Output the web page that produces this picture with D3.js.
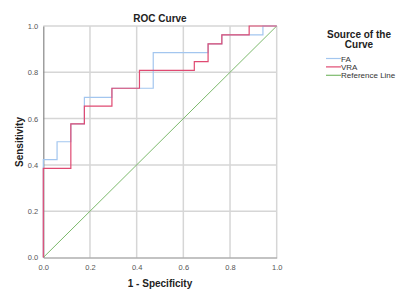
<!DOCTYPE html>
<html><head><meta charset="utf-8">
<script src="https://cdn.jsdelivr.net/npm/d3@7"></script>
<style>body{margin:0;background:#fff}svg{display:block;font-family:"Liberation Sans",Arial,sans-serif}</style>
</head><body><svg id="c" width="400" height="294"></svg>
<script>
// FA curve points (1 - specificity, sensitivity)
const faX = [0, 0, 0.059, 0.059, 0.118, 0.118, 0.176, 0.176, 0.294, 0.294, 0.471, 0.471, 0.706, 0.706, 0.765, 0.765, 0.941, 0.941, 1.0];
const faY = [0, 0.423, 0.423, 0.5, 0.5, 0.577, 0.577, 0.692, 0.692, 0.731, 0.731, 0.885, 0.885, 0.923, 0.923, 0.962, 0.962, 1.0, 1.0];
// VRA curve points
const vraX = [0, 0, 0.118, 0.118, 0.176, 0.176, 0.294, 0.294, 0.412, 0.412, 0.647, 0.647, 0.706, 0.706, 0.765, 0.765, 0.882, 0.882, 1.0];
const vraY = [0, 0.385, 0.385, 0.577, 0.577, 0.654, 0.654, 0.731, 0.731, 0.808, 0.808, 0.846, 0.846, 0.923, 0.923, 0.962, 0.962, 1.0, 1.0];
const refX = [0, 1];
const refY = [0, 1];
const ticks = [0, 0.2, 0.4, 0.6, 0.8, 1.0];
const legendNames = ["FA", "VRA", "Reference Line"];
const colors = ["#a3c6ef", "#e04a72", "#7cba6c"];

const svg = d3.select("#c");
const x = d3.scaleLinear().domain([0, 1]).range([43.3, 276.7]);
const y = d3.scaleLinear().domain([0, 1]).range([257.5, 26]);

// gridlines
const g = svg.append("g");
g.selectAll(".gx").data(ticks.slice(1)).join("line")
  .attr("x1", d => x(d)).attr("x2", d => x(d)).attr("y1", y(0)).attr("y2", y(1))
  .attr("stroke", "#d6d6d6").attr("stroke-width", 1.5);
g.selectAll(".gy").data(ticks.slice(1)).join("line")
  .attr("y1", d => y(d)).attr("y2", d => y(d)).attr("x1", x(0)).attr("x2", x(1))
  .attr("stroke", "#d6d6d6").attr("stroke-width", 1.5);

// axes
const xAxis = svg.append("g").attr("transform", `translate(0,${y(0)})`)
  .call(d3.axisBottom(x).tickValues(ticks).tickFormat(d3.format(".1f")).tickSize(0).tickPadding(7));
const yAxis = svg.append("g").attr("transform", `translate(${x(0)},0)`)
  .call(d3.axisLeft(y).tickValues(ticks).tickFormat(d3.format(".1f")).tickSize(0).tickPadding(5));
[xAxis, yAxis].forEach(a => {
  a.select(".domain").attr("stroke", "#888").attr("stroke-width", 1.2);
  a.selectAll("text").attr("fill", "#555").style("font-size", "7.5px").style("font-family", "Liberation Sans, Arial, sans-serif");
});

const line = d3.line().x(d => x(d[0])).y(d => y(d[1]));
const series = [
  faX.map((v, i) => [v, faY[i]]),
  vraX.map((v, i) => [v, vraY[i]]),
  refX.map((v, i) => [v, refY[i]])
];
svg.append("path").datum(series[2]).attr("d", line).attr("fill", "none").attr("stroke", colors[2]).attr("stroke-width", 1);
svg.append("path").datum(series[0]).attr("d", line).attr("fill", "none").attr("stroke", colors[0]).attr("stroke-width", 1.2);
svg.append("path").datum(series[1]).attr("d", line).attr("fill", "none").attr("stroke", colors[1]).attr("stroke-width", 1.2);

// titles
svg.append("text").attr("x", 160).attr("y", 22).attr("text-anchor", "middle")
  .style("font-size", "10px").style("font-weight", "bold").attr("fill", "#222").text("ROC Curve");
svg.append("text").attr("x", 160).attr("y", 287).attr("text-anchor", "middle")
  .style("font-size", "10px").style("font-weight", "bold").attr("fill", "#222").text("1 - Specificity");
svg.append("text").attr("transform", `translate(23,142) rotate(-90)`).attr("text-anchor", "middle")
  .style("font-size", "10px").style("font-weight", "bold").attr("fill", "#222").text("Sensitivity");

// legend
svg.append("text").attr("x", 359).attr("y", 38).attr("text-anchor", "middle")
  .style("font-size", "10px").style("font-weight", "bold").attr("fill", "#222").text("Source of the");
svg.append("text").attr("x", 359).attr("y", 48).attr("text-anchor", "middle")
  .style("font-size", "10px").style("font-weight", "bold").attr("fill", "#222").text("Curve");
const lg = svg.append("g");
legendNames.forEach((n, i) => {
  const yy = 58.5 + i * 8.4;
  lg.append("line").attr("x1", 326).attr("x2", 341).attr("y1", yy).attr("y2", yy)
    .attr("stroke", colors[i]).attr("stroke-width", 1.2);
  lg.append("text").attr("x", 341).attr("y", yy + 3).style("font-size", "8px").attr("fill", "#333").text(n);
});
</script></body></html>
